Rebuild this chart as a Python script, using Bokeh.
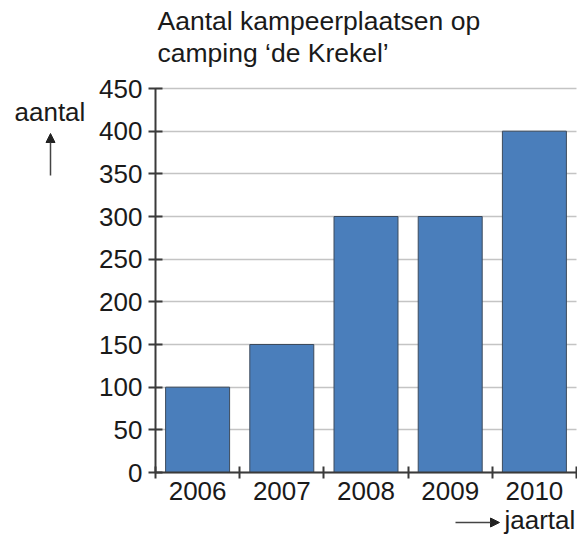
from bokeh.plotting import figure
from bokeh.models import Range1d, FixedTicker, Label, Arrow, NormalHead
from bokeh.embed import file_html
from bokeh.resources import INLINE

# data
years = ["2006", "2007", "2008", "2009", "2010"]
counts = [100, 150, 300, 300, 400]
y_ticks = [0, 50, 100, 150, 200, 250, 300, 350, 400, 450]
title_lines = ["Aantal kampeerplaatsen op", "camping \u2018de Krekel\u2019"]
y_label = "aantal"
x_label = "jaartal"

FONT = "Liberation Sans"
TXT = "#1a1a1a"
AX = "#3a3a3a"

n = len(years)
xs = list(range(n))
ymax = y_ticks[-1]

# canvas size and where the axes box sits inside it (pixels)
W, H = 577, 537
BL, BR, BT, BB = 155, 576, 88, 472
sx = (BR - BL) / n          # px per category
sy = (BB - BT) / ymax       # px per unit
x0 = -0.5 - BL / sx
x1 = x0 + W / sx
y1 = ymax + BT / sy
y0 = y1 - H / sy

p = figure(width=W, height=H, output_backend="svg", toolbar_location=None,
           title=None, x_range=Range1d(x0, x1), y_range=Range1d(y0, y1),
           min_border=0)
p.outline_line_color = None
p.background_fill_color = "white"
p.border_fill_color = "white"

p.vbar(x=xs, top=counts, width=0.76, fill_color="#4a7ebb",
       line_color="#3c4a5c", line_width=1)

# grid
p.xgrid.grid_line_color = None
p.ygrid.grid_line_color = "#c4c4c4"
p.ygrid.grid_line_width = 1.6
p.ygrid.ticker = FixedTicker(ticks=y_ticks)
p.ygrid.bounds = (0, ymax)
p.ygrid.cross_bounds = (-0.5, n - 0.5)

# y axis
ya = p.yaxis[0]
ya.fixed_location = -0.5
ya.bounds = (0, ymax)
ya.ticker = FixedTicker(ticks=y_ticks)
ya.axis_line_color = AX
ya.axis_line_width = 2
ya.major_tick_line_color = AX
ya.major_tick_line_width = 2
ya.major_tick_in = 7
ya.major_tick_out = 7
ya.minor_tick_line_color = None
ya.major_label_standoff = 6
ya.major_label_text_font = FONT
ya.major_label_text_font_size = "26px"
ya.major_label_text_color = TXT

# x axis
xa = p.xaxis[0]
xa.fixed_location = 0
xa.bounds = (-0.5, n - 0.5)
xa.ticker = FixedTicker(ticks=xs, minor_ticks=[i - 0.5 for i in range(n + 1)])
xa.major_label_overrides = {i: years[i] for i in xs}
xa.axis_line_color = AX
xa.axis_line_width = 2
xa.major_tick_line_color = None
xa.major_tick_in = 0
xa.major_tick_out = 0
xa.minor_tick_line_color = AX
xa.minor_tick_line_width = 2
xa.minor_tick_in = 6
xa.minor_tick_out = 6
xa.major_label_standoff = 3
xa.major_label_text_font = FONT
xa.major_label_text_font_size = "26px"
xa.major_label_text_color = TXT

def dx(px):
    return x0 + px / sx
def dy(py):
    return y1 - py / sy

common = dict(text_font=FONT, text_color=TXT,
              text_baseline="alphabetic", text_align="left")
p.add_layout(Label(x=dx(157), y=dy(20), text=title_lines[0],
                   text_font_size="26.5px", **common))
p.add_layout(Label(x=dx(157), y=dy(52), text=title_lines[1],
                   text_font_size="26.5px", **common))
p.add_layout(Label(x=dx(14), y=dy(111), text=y_label,
                   text_font_size="26px", **common))
p.add_layout(Label(x=dx(504), y=dy(519), text=x_label,
                   text_font_size="26px", **common))

p.add_layout(Arrow(x_start=dx(50), y_start=dy(175), x_end=dx(50), y_end=dy(133),
                   line_color="#444444", line_width=1.5,
                   end=NormalHead(size=9, fill_color="#222222", line_color="#222222")))
p.add_layout(Arrow(x_start=dx(455), y_start=dy(522), x_end=dx(499), y_end=dy(522),
                   line_color="#444444", line_width=1.5,
                   end=NormalHead(size=9, fill_color="#222222", line_color="#222222")))

open("out.html", "w").write(file_html(p, INLINE))
